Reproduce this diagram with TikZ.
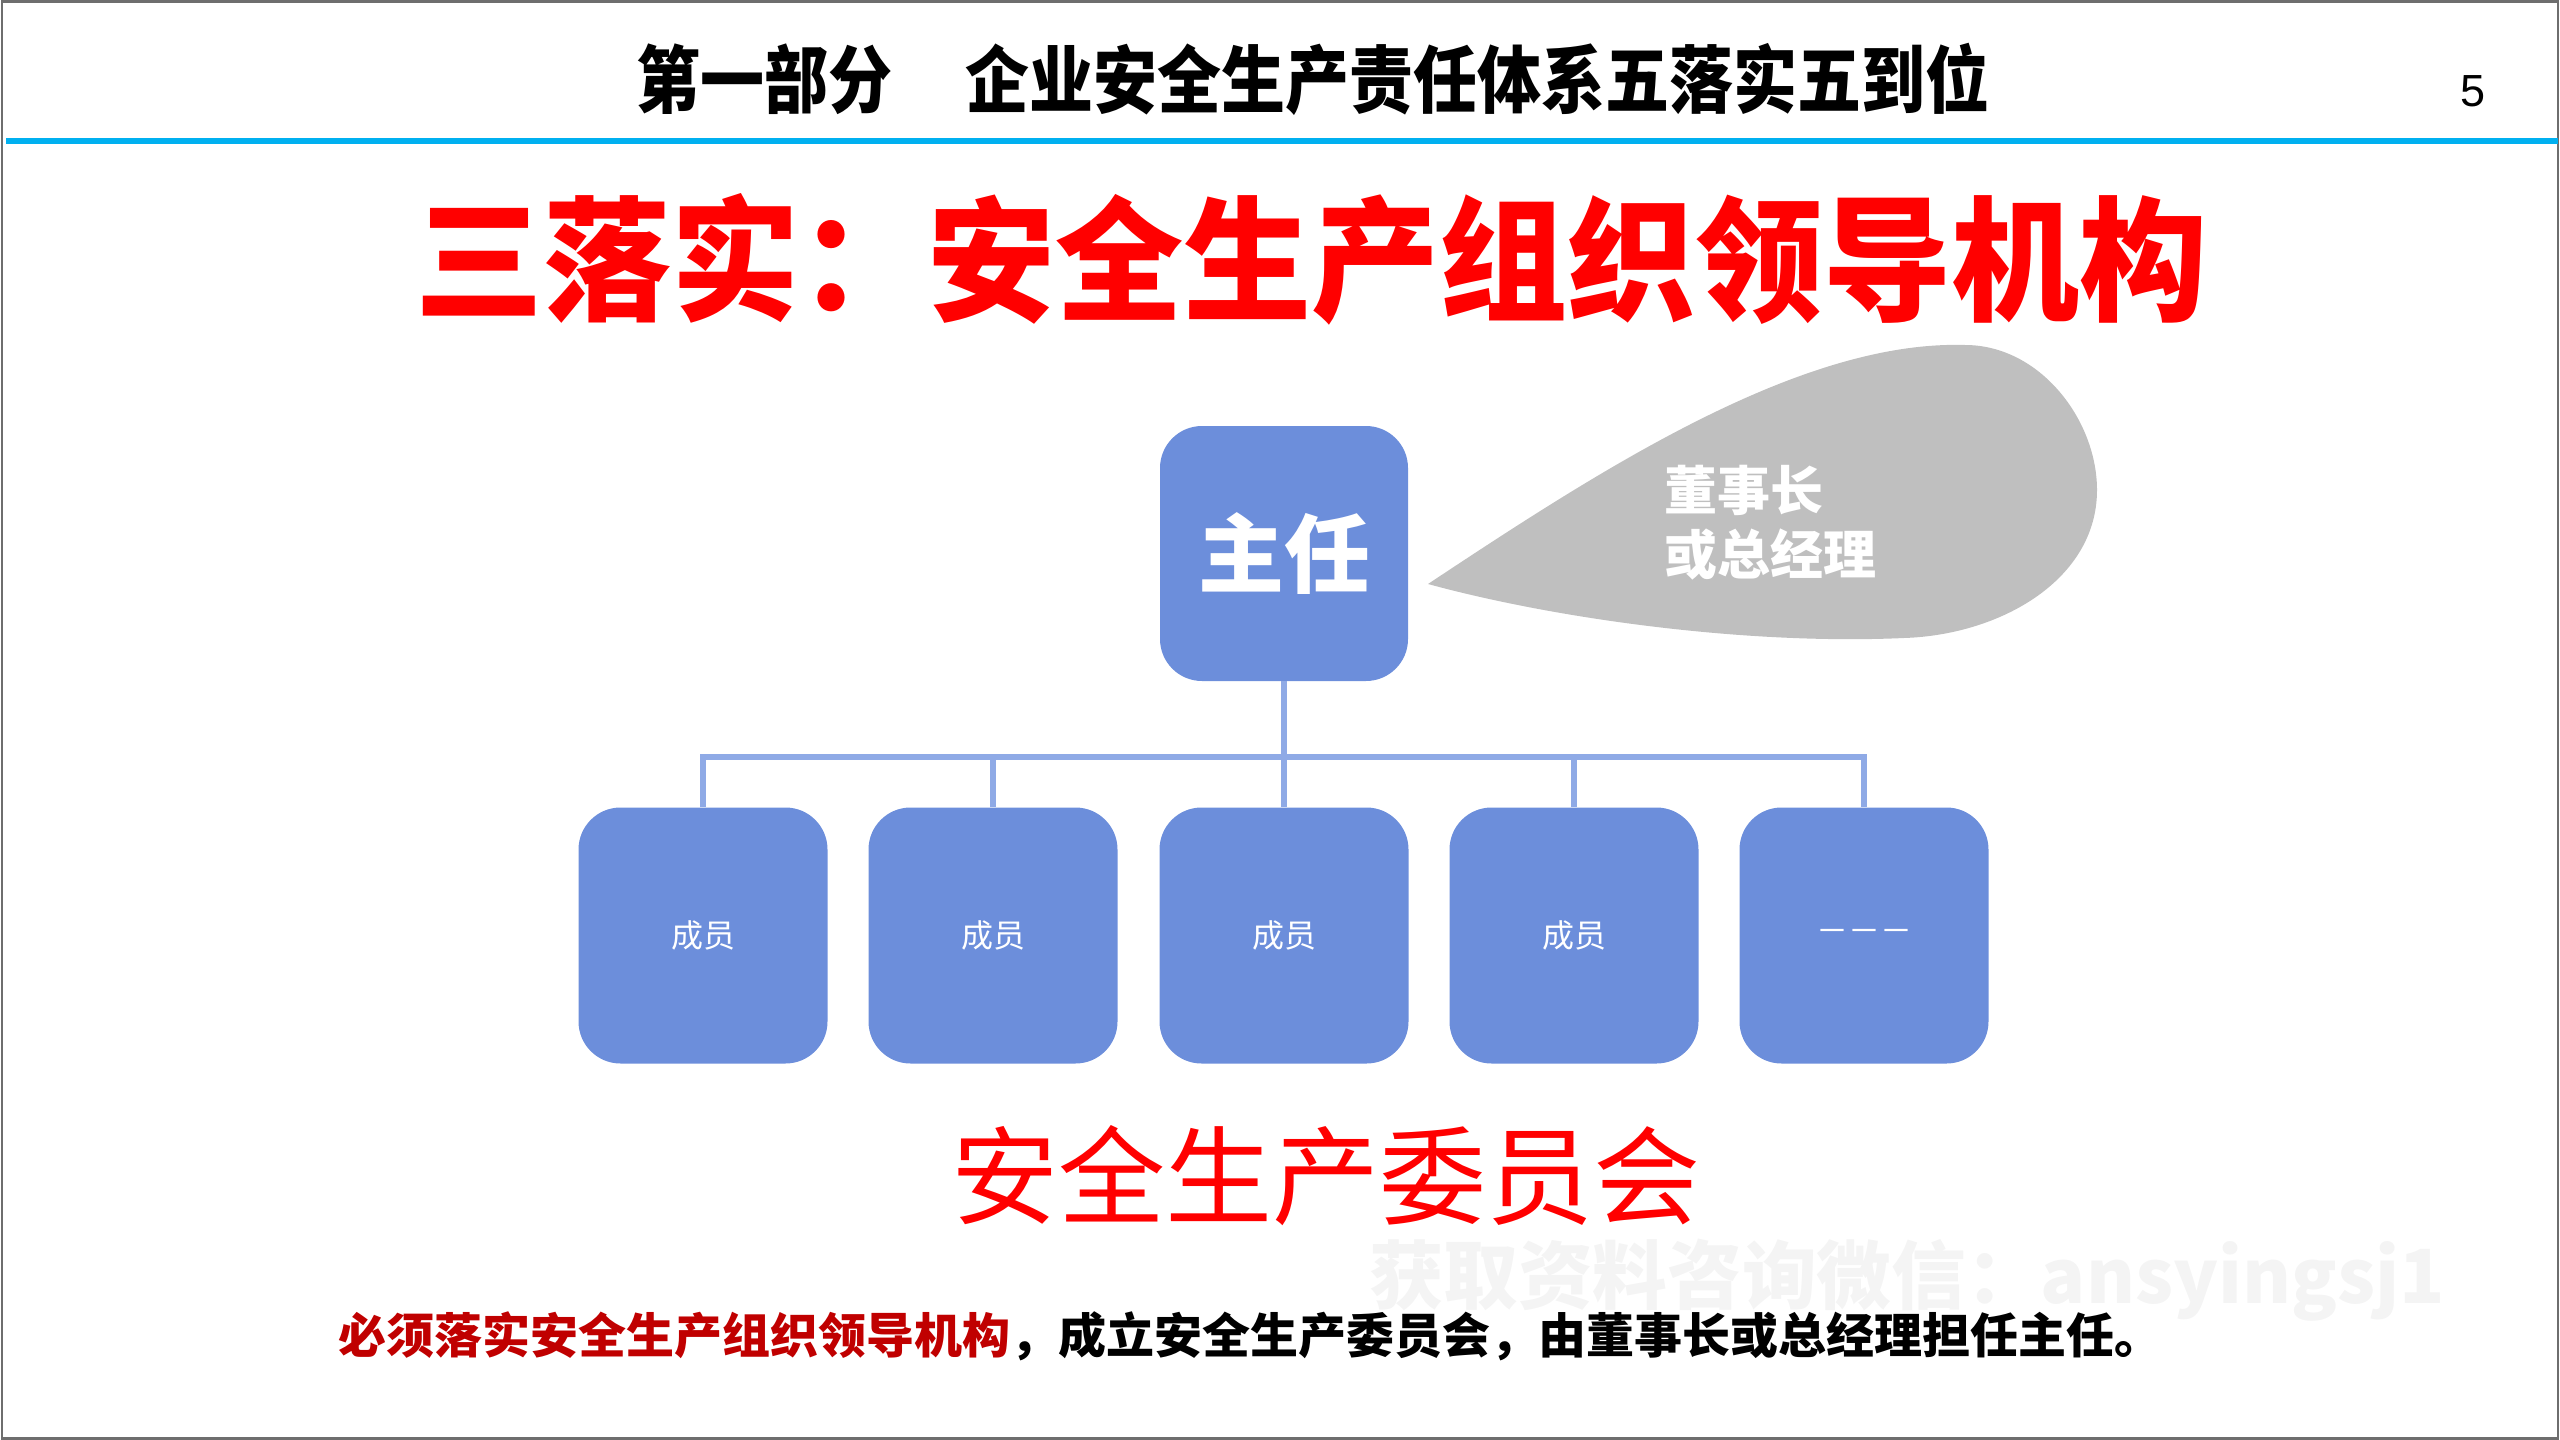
\documentclass[tikz,border=0pt]{standalone}
\usepackage{fontspec}
\usepackage{graphicx}
\setmainfont{Noto Sans CJK SC}
\newfontfamily\arialfont{Liberation Sans}
\definecolor{boxblue}{HTML}{6C8EDB}
\definecolor{connblue}{HTML}{8FAAE6}
\definecolor{bubblegray}{HTML}{BFBFBF}
\definecolor{topblue}{HTML}{00B0F0}
\definecolor{darkred}{HTML}{C00000}
\definecolor{wmgray}{HTML}{F4F4F4}
\definecolor{framegray}{HTML}{6E6E6E}
\begin{document}
\begin{tikzpicture}[x=1pt,y=-1pt,
  orgbox/.style={fill=boxblue, rounded corners=42pt, minimum width=249pt, minimum height=256pt, inner sep=0pt, text=white},
  conn/.style={draw=connblue, line width=5.5pt},
  fsz/.style={font=\fontsize{#1pt}{#1pt}\selectfont}]
\useasboundingbox (0,0) rectangle (2560,1440);
% slide frame
\draw[framegray, line width=2.5pt] (2,1.5) rectangle (2558,1438.5);
% header
\node[fsz=64, inner sep=0pt] (h1) at (764,79) {\scalebox{1}[1.15]{\bfseries 第一部分}};
\node[fsz=64, inner sep=0pt] (h2) at (1477,79) {\scalebox{1}[1.15]{\bfseries 企业安全生产责任体系五落实五到位}};
\node[inner sep=0pt, font=\arialfont\fontsize{45pt}{45pt}\selectfont] (pg) at (2473,91) {5};
\fill[topblue] (6,138) rectangle (2558,144);
% main title
\node[fsz=128, inner sep=0pt, text={rgb,255:red,255;green,0;blue,0}] (title) at (1311,259) {\scalebox{1}[1.05]{\bfseries 三落实：安全生产组织领导机构}};
% speech bubble
\fill[bubblegray] (1428,584) .. controls (1600,470) and (1800,340) .. (1965,345)
  .. controls (2040,345) and (2097,420) .. (2097,490)
  .. controls (2097,580) and (2000,635) .. (1904,638)
  .. controls (1750,645) and (1560,620) .. (1428,584) -- cycle;
\node[inner sep=0pt, text=white, align=left, anchor=west, font=\fontsize{53pt}{64pt}\selectfont\bfseries] (bt) at (1664,523) {董事长\\或总经理};
% director box
\node[orgbox, minimum width=248pt, minimum height=255pt] (zr) at (1284,553.5) {\fontsize{86pt}{86pt}\selectfont\bfseries 主任};
% member boxes
\node[orgbox] (m1) at (703,935.5) {\fontsize{32pt}{32pt}\selectfont 成员};
\node[orgbox] (m2) at (993,935.5) {\fontsize{32pt}{32pt}\selectfont 成员};
\node[orgbox] (m3) at (1284,935.5) {\fontsize{32pt}{32pt}\selectfont 成员};
\node[orgbox] (m4) at (1574,935.5) {\fontsize{32pt}{32pt}\selectfont 成员};
\node[orgbox] (m5) at (1864,935.5) {\fontsize{32pt}{32pt}\selectfont －－－};
% connectors
\coordinate (bus) at (1284,757);
\foreach \i in {1,...,5} {
  \draw[conn] (zr.south) -- (bus) -| (m\i.north);
}
% committee name
\node[fsz=107, inner sep=0pt, text={rgb,255:red,255;green,0;blue,0}] (cm) at (1326,1176) {安全生产委员会};
% watermark
\node[inner sep=0pt, text=wmgray] (wm) at (1907,1280) {\resizebox{1076pt}{!}{\fontsize{66pt}{66pt}\selectfont\bfseries 获取资料咨询微信：ansyingsj1}};
% bottom sentence
\node[fsz=48, inner sep=0pt, anchor=west] (note) at (338,1336) {\bfseries{\color{darkred}必须落实安全生产组织领导机构}，成立安全生产委员会，由董事长或总经理担任主任。};
\end{tikzpicture}
\end{document}
